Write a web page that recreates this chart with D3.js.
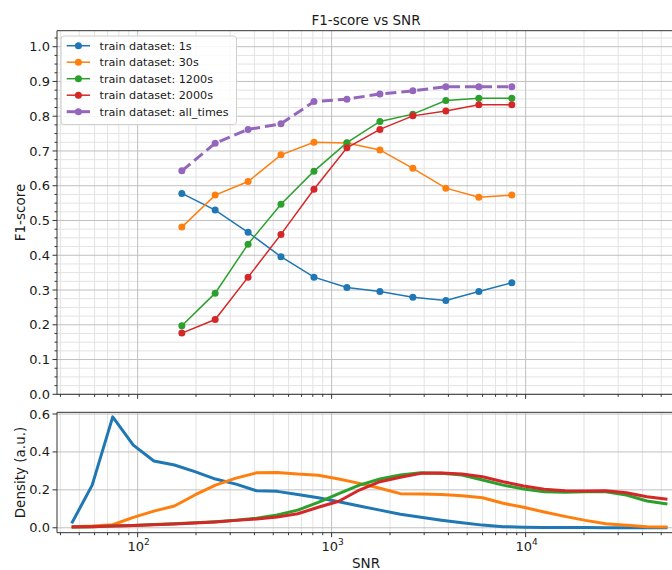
<!DOCTYPE html>
<html><head><meta charset="utf-8">
<script src="https://cdn.jsdelivr.net/npm/d3@7"></script>
<style>
html,body{margin:0;padding:0;background:#fff;overflow:hidden;}
text{font-family:"DejaVu Sans",sans-serif;fill:#1a1a1a;}
</style></head>
<body><svg id="c" width="672" height="570"></svg>
<script>
// ---- data ----
const snr = [169, 251, 371, 548, 811, 1199, 1774, 2623, 3880, 5738, 8487];
const seriesNames = ["train dataset: 1s", "train dataset: 30s", "train dataset: 1200s", "train dataset: 2000s", "train dataset: all_times"];
const f1_1s      = [0.578, 0.530, 0.466, 0.396, 0.337, 0.307, 0.296, 0.279, 0.270, 0.296, 0.321];
const f1_30s     = [0.481, 0.573, 0.612, 0.689, 0.725, 0.723, 0.703, 0.650, 0.593, 0.567, 0.573];
const f1_1200s   = [0.197, 0.291, 0.432, 0.547, 0.642, 0.724, 0.785, 0.806, 0.845, 0.852, 0.852];
const f1_2000s   = [0.176, 0.215, 0.337, 0.460, 0.590, 0.709, 0.762, 0.801, 0.815, 0.833, 0.833];
const f1_all     = [0.643, 0.722, 0.762, 0.778, 0.842, 0.849, 0.864, 0.873, 0.885, 0.885, 0.885];

const densSNR = [45.7, 58.3, 74.4, 95.0, 121.3, 154.8, 197.3, 251.9, 321.5, 410.4, 523.8, 668.4, 853.1, 1089, 1390,
                 1774, 2262, 2886, 3684, 4701, 5999, 7656, 9772, 12470, 15920, 20310, 25920, 33080, 42220, 53830];
const dens_1s    = [0.023, 0.225, 0.585, 0.436, 0.352, 0.331, 0.296, 0.257, 0.230, 0.195, 0.192, 0.176, 0.158, 0.137, 0.115,
                    0.093, 0.071, 0.055, 0.040, 0.027, 0.014, 0.006, 0.003, 0.002, 0.001, 0.001, 0.000, 0.000, 0.000, 0.000];
const dens_30s   = [0.005, 0.009, 0.016, 0.055, 0.088, 0.115, 0.173, 0.225, 0.262, 0.290, 0.292, 0.283, 0.277, 0.257, 0.234,
                    0.208, 0.180, 0.178, 0.176, 0.169, 0.158, 0.129, 0.108, 0.083, 0.060, 0.039, 0.021, 0.013, 0.006, 0.004];
const dens_1200s = [0.004, 0.006, 0.009, 0.012, 0.017, 0.021, 0.026, 0.032, 0.040, 0.050, 0.068, 0.093, 0.134, 0.180, 0.225,
                    0.257, 0.278, 0.290, 0.288, 0.278, 0.252, 0.225, 0.204, 0.190, 0.187, 0.190, 0.190, 0.173, 0.141, 0.125];
const dens_2000s = [0.004, 0.006, 0.009, 0.012, 0.016, 0.020, 0.025, 0.031, 0.039, 0.046, 0.057, 0.074, 0.108, 0.140, 0.199,
                    0.243, 0.266, 0.287, 0.289, 0.283, 0.269, 0.243, 0.220, 0.203, 0.195, 0.194, 0.195, 0.185, 0.164, 0.151];

const f1Ticks = [0, 0.1, 0.2, 0.3, 0.4, 0.5, 0.6, 0.7, 0.8, 0.9, 1.0];
const densTicks = [0, 0.2, 0.4, 0.6];
const xMajor = [100, 1000, 10000];
const colors = ["#1f77b4", "#ff7f0e", "#2ca02c", "#d62728", "#9467bd"];

// ---- layout ----
const L = 57, R = 676;
const top1 = 30.7, bot1 = 394.3;
const top2 = 412.3, bot2 = 532.7;
const svg = d3.select("#c");

const x = d3.scaleLog().domain([38.4, 59600]).range([L, R]);
const y1 = d3.scaleLinear().domain([0, 1.046]).range([bot1, top1]);
const y2 = d3.scaleLinear().domain([-0.026, 0.609]).range([bot2, top2]);

// minor log ticks
const xMinor = [];
[10, 100, 1000, 10000].forEach(d => { for (let m = 2; m <= 9; m++) { const v = d * m; if (v >= 38.4 && v <= 59600) xMinor.push(v); } });
const y1Minor = d3.range(0, 1.046, 0.025).filter(v => Math.abs(Math.round(v * 10) - v * 10) > 1e-6);

function clipRect(id, t, b) {
  svg.append("clipPath").attr("id", id).append("rect").attr("x", L).attr("y", t).attr("width", R - L).attr("height", b - t);
}
clipRect("cp1", top1, bot1); clipRect("cp2", top2, bot2);

// ---- top panel grid ----
const g1 = svg.append("g");
g1.selectAll(".vmin").data(xMinor).join("line").attr("x1", d => x(d)).attr("x2", d => x(d)).attr("y1", top1).attr("y2", bot1)
  .attr("stroke", "#e3e3e3").attr("stroke-width", 1);
g1.selectAll(".hmin").data(y1Minor).join("line").attr("y1", d => y1(d)).attr("y2", d => y1(d)).attr("x1", L).attr("x2", R)
  .attr("stroke", "#e3e3e3").attr("stroke-width", 1);
g1.selectAll(".vmaj").data(xMajor).join("line").attr("x1", d => x(d)).attr("x2", d => x(d)).attr("y1", top1).attr("y2", bot1)
  .attr("stroke", "#c0c0c0").attr("stroke-width", 1);
g1.selectAll(".hmaj").data(f1Ticks).join("line").attr("y1", d => y1(d)).attr("y2", d => y1(d)).attr("x1", L).attr("x2", R)
  .attr("stroke", "#c0c0c0").attr("stroke-width", 1);

// ---- bottom panel grid ----
const g2 = svg.append("g");
g2.selectAll(".vmin").data(xMinor).join("line").attr("x1", d => x(d)).attr("x2", d => x(d)).attr("y1", top2).attr("y2", bot2)
  .attr("stroke", "#e3e3e3").attr("stroke-width", 1);
g2.selectAll(".vmaj").data(xMajor).join("line").attr("x1", d => x(d)).attr("x2", d => x(d)).attr("y1", top2).attr("y2", bot2)
  .attr("stroke", "#c0c0c0").attr("stroke-width", 1);
g2.selectAll(".hmaj").data(densTicks).join("line").attr("y1", d => y2(d)).attr("y2", d => y2(d)).attr("x1", L).attr("x2", R)
  .attr("stroke", "#c0c0c0").attr("stroke-width", 1);

// ---- top panel lines ----
const f1Series = [f1_1s, f1_30s, f1_1200s, f1_2000s, f1_all];
const line1 = d3.line().x((d, i) => x(snr[i])).y(d => y1(d));
const lp1 = svg.append("g").attr("clip-path", "url(#cp1)");
f1Series.forEach((s, k) => {
  const isAll = k === 4;
  lp1.append("path").attr("d", line1(s)).attr("fill", "none").attr("stroke", colors[k])
    .attr("stroke-width", isAll ? 3 : 1.5).attr("stroke-dasharray", isAll ? "11,5" : null);
  lp1.selectAll(null).data(s).join("circle").attr("cx", (d, i) => x(snr[i])).attr("cy", d => y1(d))
    .attr("r", 3.5).attr("fill", colors[k]);
});

// ---- bottom panel lines ----
const densSeries = [dens_1s, dens_30s, dens_1200s, dens_2000s];
const line2 = d3.line().x((d, i) => x(densSNR[i])).y(d => y2(d));
const lp2 = svg.append("g").attr("clip-path", "url(#cp2)");
densSeries.forEach((s, k) => {
  lp2.append("path").attr("d", line2(s)).attr("fill", "none").attr("stroke", colors[k])
    .attr("stroke-width", 3).attr("stroke-linejoin", "round");
});

// ---- spines ----
function spines(t, b) {
  svg.append("path").attr("d", `M${R},${t}H${L}V${b}H${R}`).attr("fill", "none").attr("stroke", "#333").attr("stroke-width", 1);
}
spines(top1, bot1); spines(top2, bot2);

// ---- ticks ----
function xTicks(b) {
  svg.selectAll(null).data(xMajor).join("line").attr("x1", d => x(d)).attr("x2", d => x(d)).attr("y1", b).attr("y2", b + 4.5)
    .attr("stroke", "#333");
  svg.selectAll(null).data(xMinor).join("line").attr("x1", d => x(d)).attr("x2", d => x(d)).attr("y1", b).attr("y2", b + 2.5)
    .attr("stroke", "#333");
}
xTicks(bot1); xTicks(bot2);

svg.selectAll(null).data(f1Ticks).join("line").attr("x1", L - 4.5).attr("x2", L).attr("y1", d => y1(d)).attr("y2", d => y1(d)).attr("stroke", "#333");
svg.selectAll(null).data(y1Minor).join("line").attr("x1", L - 2.5).attr("x2", L).attr("y1", d => y1(d)).attr("y2", d => y1(d)).attr("stroke", "#333");
svg.selectAll(null).data(f1Ticks).join("text").attr("x", L - 7).attr("y", d => y1(d)).attr("dy", "0.35em")
  .attr("text-anchor", "end").attr("font-size", 13).text(d => d.toFixed(1));

svg.selectAll(null).data(densTicks).join("line").attr("x1", L - 4.5).attr("x2", L).attr("y1", d => y2(d)).attr("y2", d => y2(d)).attr("stroke", "#333");
svg.selectAll(null).data(densTicks).join("text").attr("x", L - 7).attr("y", d => y2(d)).attr("dy", "0.35em")
  .attr("text-anchor", "end").attr("font-size", 13).text(d => d.toFixed(1));

const xl = svg.selectAll(null).data(xMajor).join("text").attr("x", d => x(d) + 1).attr("y", bot2 + 18)
  .attr("text-anchor", "middle").attr("font-size", 13);
xl.append("tspan").text("10");
xl.append("tspan").attr("dy", -6).attr("font-size", 9).text(d => String(Math.round(Math.log10(d))));

// ---- labels ----
svg.append("text").attr("x", 366).attr("y", 25).attr("text-anchor", "middle").attr("font-size", 13.5).text("F1-score vs SNR");
svg.append("text").attr("transform", `translate(25,${(top1 + bot1) / 2}) rotate(-90)`).attr("text-anchor", "middle")
  .attr("font-size", 13.5).text("F1-score");
svg.append("text").attr("transform", `translate(25,${(top2 + bot2) / 2}) rotate(-90)`).attr("text-anchor", "middle")
  .attr("font-size", 13.5).text("Density (a.u.)");
svg.append("text").attr("x", 366).attr("y", 568).attr("text-anchor", "middle").attr("font-size", 13.5).text("SNR");

// ---- legend ----
const lg = svg.append("g");
lg.append("rect").attr("x", 61).attr("y", 36).attr("width", 175.5).attr("height", 88.5).attr("rx", 3)
  .attr("fill", "#fff").attr("fill-opacity", 0.85).attr("stroke", "#d0d0d0");
seriesNames.forEach((name, k) => {
  const yy = 45.7 + k * 16.5;
  const isAll = k === 4;
  lg.append("line").attr("x1", 66.7).attr("x2", 90).attr("y1", yy).attr("y2", yy).attr("stroke", colors[k])
    .attr("stroke-width", isAll ? 3 : 1.5);
  lg.append("circle").attr("cx", 78.4).attr("cy", yy).attr("r", 3.5).attr("fill", colors[k]);
  lg.append("text").attr("x", 99.5).attr("y", yy).attr("dy", "0.35em").attr("font-size", 11.2).text(name);
});
</script></body></html>
